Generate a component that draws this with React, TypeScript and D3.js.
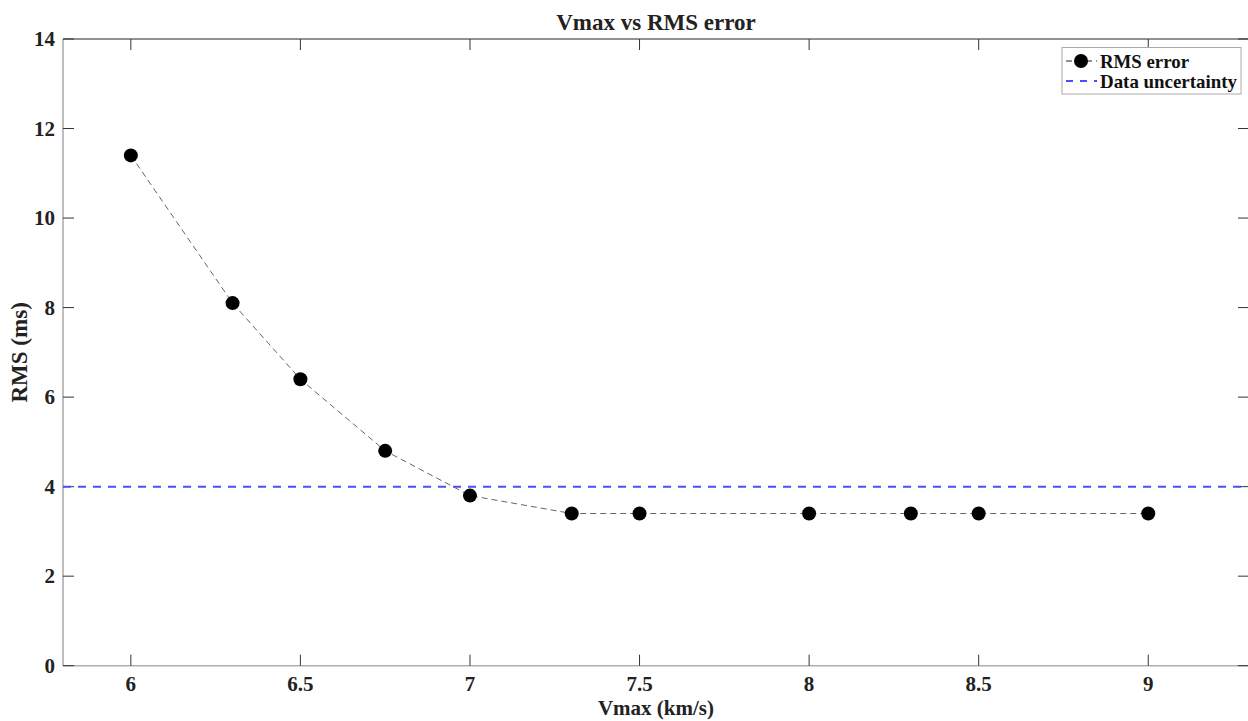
import React from "react";
import * as d3 from "d3";

const vmax = [6, 6.3, 6.5, 6.75, 7, 7.3, 7.5, 8, 8.3, 8.5, 9];
const rms = [11.4, 8.1, 6.4, 4.8, 3.8, 3.4, 3.4, 3.4, 3.4, 3.4, 3.4];
const uncertainty = 4;
const xTicks = [6, 6.5, 7, 7.5, 8, 8.5, 9];
const yTicks = [0, 2, 4, 6, 8, 10, 12, 14];

const W = 1248, H = 721;
const left = 63, right = 1250, top = 39, bottom = 665.7;
const FONT = "'Times New Roman', 'Liberation Serif', serif";

export default function App() {
  const x = d3.scaleLinear().domain([5.8, 9.3]).range([left, right]);
  const y = d3.scaleLinear().domain([0, 14]).range([bottom, top]);
  const pts = vmax.map((v, i) => [v, rms[i]] as [number, number]);
  const line = d3.line<[number, number]>().x(d => x(d[0])).y(d => y(d[1]));
  const tickLen = 11;
  return (
    <svg width={W} height={H} style={{ position: "absolute", left: 0, top: 0 }} fontFamily={FONT}>
      <rect x={0} y={0} width={W} height={H} fill="#fff" />
      <line x1={left} x2={right} y1={top} y2={top} stroke="#6e6e6e" strokeWidth={1.3} />
      <line x1={left} x2={right} y1={bottom} y2={bottom} stroke="#b0b0b0" strokeWidth={1.5} />
      <line x1={left} x2={left} y1={top} y2={bottom} stroke="#a8a8a8" strokeWidth={1.5} />
      {xTicks.map(t => (
        <g key={"x" + t}>
          <line x1={x(t)} x2={x(t)} y1={bottom} y2={bottom - tickLen} stroke="#333" strokeWidth={1} />
          <line x1={x(t)} x2={x(t)} y1={top} y2={top + tickLen} stroke="#333" strokeWidth={1} />
          <text x={x(t)} y={bottom + 25.5} textAnchor="middle" fontSize={21} fontWeight="bold" fill="#222">{t}</text>
        </g>
      ))}
      {yTicks.map(t => (
        <g key={"y" + t}>
          <line x1={left} x2={left + tickLen} y1={y(t)} y2={y(t)} stroke="#333" strokeWidth={1} />
          <line x1={right - 1} x2={right - 1 - tickLen} y1={y(t)} y2={y(t)} stroke="#333" strokeWidth={1} />
          <text x={left - 8} y={y(t) + 7} textAnchor="end" fontSize={21} fontWeight="bold" fill="#222">{t}</text>
        </g>
      ))}
      <line x1={left} x2={right} y1={y(uncertainty)} y2={y(uncertainty)} stroke="#4d4dff" strokeWidth={2} strokeDasharray="8,7" />
      <path d={line(pts) || ""} fill="none" stroke="#666" strokeWidth={1} strokeDasharray="6,4" />
      {pts.map((p, i) => (
        <circle key={i} cx={x(p[0])} cy={y(p[1])} r={7} fill="#000" />
      ))}
      <text x={656} y={30} textAnchor="middle" fontSize={23} fontWeight="bold" fill="#222">Vmax vs RMS error</text>
      <text x={656} y={715} textAnchor="middle" fontSize={21} fontWeight="bold" fill="#222">Vmax (km/s)</text>
      <text transform={`translate(27,${(top + bottom) / 2}) rotate(-90)`} textAnchor="middle" fontSize={23} fontWeight="bold" fill="#222">RMS (ms)</text>
      <rect x={1062} y={47.5} width={179} height={46.5} fill="#fff" stroke="#aaa" strokeWidth={1} />
      <line x1={1066} x2={1097} y1={61} y2={61} stroke="#222" strokeWidth={1} strokeDasharray="6,4" />
      <circle cx={1081} cy={61} r={7} fill="#000" />
      <text x={1100} y={67.5} fontSize={19} fontWeight="bold" fill="#111" textLength={89} lengthAdjust="spacingAndGlyphs">RMS error</text>
      <line x1={1066} x2={1097} y1={81} y2={81} stroke="#4d4dff" strokeWidth={2} strokeDasharray="7,7" />
      <text x={1100} y={87.5} fontSize={19} fontWeight="bold" fill="#111" textLength={137} lengthAdjust="spacingAndGlyphs">Data uncertainty</text>
    </svg>
  );
}
